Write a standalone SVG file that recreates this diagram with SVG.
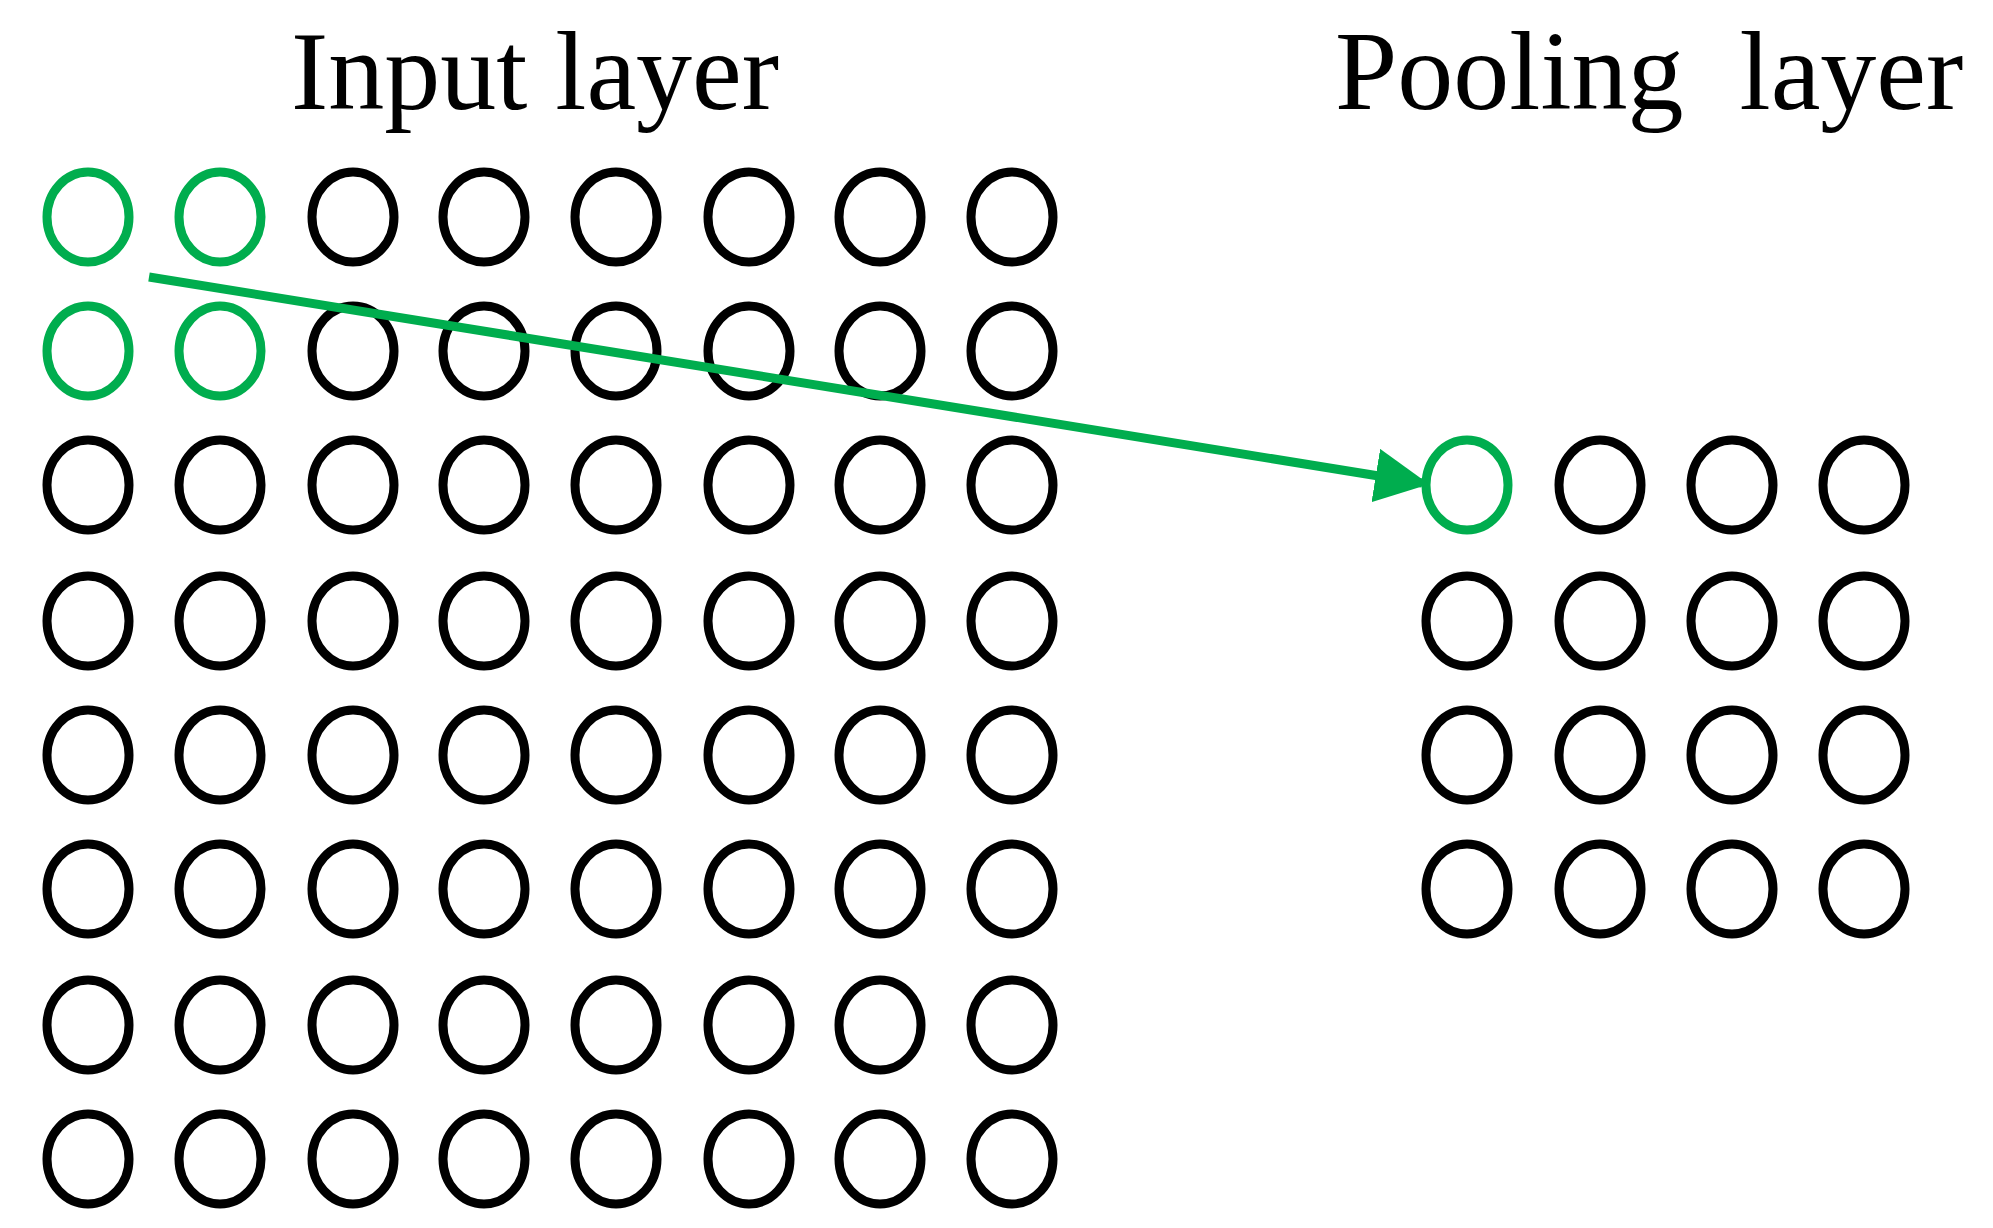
<svg xmlns="http://www.w3.org/2000/svg" width="1993" height="1228" viewBox="0 0 1993 1228">
<defs>
<style>
.n{fill:none;stroke:#000;stroke-width:9}
.g{fill:none;stroke:#00AD4E;stroke-width:9}
.t{font-family:"Liberation Serif","Times New Roman",serif;font-size:112px;fill:#000}
</style>
<marker id="ah" markerWidth="6" markerHeight="6" refX="5.2" refY="3" orient="auto" markerUnits="strokeWidth"><path d="M0,0 L6,3 L0,6 Z" fill="#00AD4E"/></marker>
</defs>
<rect width="1993" height="1228" fill="#fff"/>
<text class="t" x="535" y="109" text-anchor="middle">Input layer</text>
<text class="t" x="1335" y="109" xml:space="preserve">Pooling  layer</text>
<g id="input">
<g id="i-r1"><ellipse class="g" cx="88" cy="217" rx="41" ry="45"/><ellipse class="g" cx="220" cy="217" rx="41" ry="45"/><ellipse class="n" cx="353" cy="217" rx="41" ry="45"/><ellipse class="n" cx="484" cy="217" rx="41" ry="45"/><ellipse class="n" cx="616" cy="217" rx="41" ry="45"/><ellipse class="n" cx="749" cy="217" rx="41" ry="45"/><ellipse class="n" cx="880" cy="217" rx="41" ry="45"/><ellipse class="n" cx="1012" cy="217" rx="41" ry="45"/></g>
<g id="i-r2"><ellipse class="g" cx="88" cy="351" rx="41" ry="45"/><ellipse class="g" cx="220" cy="351" rx="41" ry="45"/><ellipse class="n" cx="353" cy="351" rx="41" ry="45"/><ellipse class="n" cx="484" cy="351" rx="41" ry="45"/><ellipse class="n" cx="616" cy="351" rx="41" ry="45"/><ellipse class="n" cx="749" cy="351" rx="41" ry="45"/><ellipse class="n" cx="880" cy="351" rx="41" ry="45"/><ellipse class="n" cx="1012" cy="351" rx="41" ry="45"/></g>
<g id="i-r3"><ellipse class="n" cx="88" cy="485" rx="41" ry="45"/><ellipse class="n" cx="220" cy="485" rx="41" ry="45"/><ellipse class="n" cx="353" cy="485" rx="41" ry="45"/><ellipse class="n" cx="484" cy="485" rx="41" ry="45"/><ellipse class="n" cx="616" cy="485" rx="41" ry="45"/><ellipse class="n" cx="749" cy="485" rx="41" ry="45"/><ellipse class="n" cx="880" cy="485" rx="41" ry="45"/><ellipse class="n" cx="1012" cy="485" rx="41" ry="45"/></g>
<g id="i-r4"><ellipse class="n" cx="88" cy="621" rx="41" ry="45"/><ellipse class="n" cx="220" cy="621" rx="41" ry="45"/><ellipse class="n" cx="353" cy="621" rx="41" ry="45"/><ellipse class="n" cx="484" cy="621" rx="41" ry="45"/><ellipse class="n" cx="616" cy="621" rx="41" ry="45"/><ellipse class="n" cx="749" cy="621" rx="41" ry="45"/><ellipse class="n" cx="880" cy="621" rx="41" ry="45"/><ellipse class="n" cx="1012" cy="621" rx="41" ry="45"/></g>
<g id="i-r5"><ellipse class="n" cx="88" cy="755" rx="41" ry="45"/><ellipse class="n" cx="220" cy="755" rx="41" ry="45"/><ellipse class="n" cx="353" cy="755" rx="41" ry="45"/><ellipse class="n" cx="484" cy="755" rx="41" ry="45"/><ellipse class="n" cx="616" cy="755" rx="41" ry="45"/><ellipse class="n" cx="749" cy="755" rx="41" ry="45"/><ellipse class="n" cx="880" cy="755" rx="41" ry="45"/><ellipse class="n" cx="1012" cy="755" rx="41" ry="45"/></g>
<g id="i-r6"><ellipse class="n" cx="88" cy="889" rx="41" ry="45"/><ellipse class="n" cx="220" cy="889" rx="41" ry="45"/><ellipse class="n" cx="353" cy="889" rx="41" ry="45"/><ellipse class="n" cx="484" cy="889" rx="41" ry="45"/><ellipse class="n" cx="616" cy="889" rx="41" ry="45"/><ellipse class="n" cx="749" cy="889" rx="41" ry="45"/><ellipse class="n" cx="880" cy="889" rx="41" ry="45"/><ellipse class="n" cx="1012" cy="889" rx="41" ry="45"/></g>
<g id="i-r7"><ellipse class="n" cx="88" cy="1025" rx="41" ry="45"/><ellipse class="n" cx="220" cy="1025" rx="41" ry="45"/><ellipse class="n" cx="353" cy="1025" rx="41" ry="45"/><ellipse class="n" cx="484" cy="1025" rx="41" ry="45"/><ellipse class="n" cx="616" cy="1025" rx="41" ry="45"/><ellipse class="n" cx="749" cy="1025" rx="41" ry="45"/><ellipse class="n" cx="880" cy="1025" rx="41" ry="45"/><ellipse class="n" cx="1012" cy="1025" rx="41" ry="45"/></g>
<g id="i-r8"><ellipse class="n" cx="88" cy="1159" rx="41" ry="45"/><ellipse class="n" cx="220" cy="1159" rx="41" ry="45"/><ellipse class="n" cx="353" cy="1159" rx="41" ry="45"/><ellipse class="n" cx="484" cy="1159" rx="41" ry="45"/><ellipse class="n" cx="616" cy="1159" rx="41" ry="45"/><ellipse class="n" cx="749" cy="1159" rx="41" ry="45"/><ellipse class="n" cx="880" cy="1159" rx="41" ry="45"/><ellipse class="n" cx="1012" cy="1159" rx="41" ry="45"/></g>
</g>
<g id="pool">
<g id="p-r1"><ellipse class="g" cx="1467" cy="485" rx="41" ry="45"/><ellipse class="n" cx="1600" cy="485" rx="41" ry="45"/><ellipse class="n" cx="1732" cy="485" rx="41" ry="45"/><ellipse class="n" cx="1864" cy="485" rx="41" ry="45"/></g>
<g id="p-r2"><ellipse class="n" cx="1467" cy="621" rx="41" ry="45"/><ellipse class="n" cx="1600" cy="621" rx="41" ry="45"/><ellipse class="n" cx="1732" cy="621" rx="41" ry="45"/><ellipse class="n" cx="1864" cy="621" rx="41" ry="45"/></g>
<g id="p-r3"><ellipse class="n" cx="1467" cy="755" rx="41" ry="45"/><ellipse class="n" cx="1600" cy="755" rx="41" ry="45"/><ellipse class="n" cx="1732" cy="755" rx="41" ry="45"/><ellipse class="n" cx="1864" cy="755" rx="41" ry="45"/></g>
<g id="p-r4"><ellipse class="n" cx="1467" cy="889" rx="41" ry="45"/><ellipse class="n" cx="1600" cy="889" rx="41" ry="45"/><ellipse class="n" cx="1732" cy="889" rx="41" ry="45"/><ellipse class="n" cx="1864" cy="889" rx="41" ry="45"/></g>
</g>
<g id="connectors">
<line x1="149" y1="277" x2="1422" y2="483" stroke="#00AD4E" stroke-width="9" marker-end="url(#ah)"/>
</g>
</svg>
